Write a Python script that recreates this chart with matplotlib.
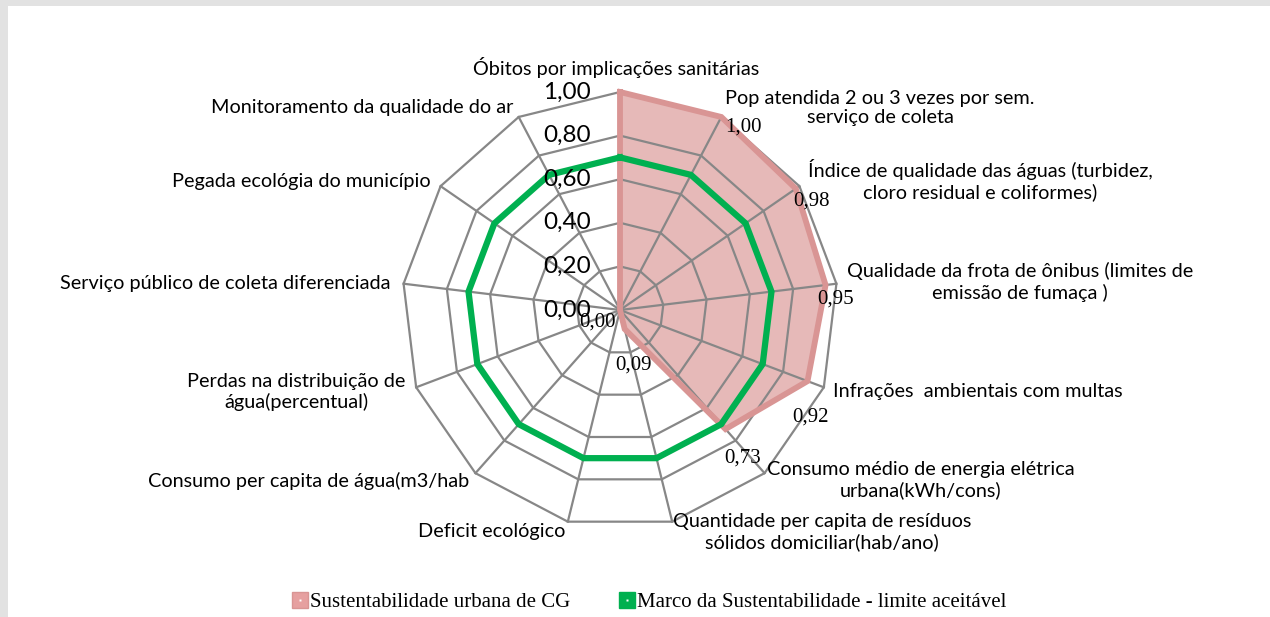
import numpy as np
import matplotlib
matplotlib.use("Agg")
import matplotlib.pyplot as plt
from matplotlib.lines import Line2D
from matplotlib.patches import Rectangle

categories = [
    "Óbitos por implicações sanitárias",
    "Pop atendida 2 ou 3 vezes por sem.\nserviço de coleta",
    "Índice de qualidade das águas (turbidez,\ncloro residual e coliformes)",
    "Qualidade da frota de ônibus (limites de\nemissão de fumaça )",
    "Infrações  ambientais com multas",
    "Consumo médio de energia elétrica\nurbana(kWh/cons)",
    "Quantidade per capita de resíduos\nsólidos domiciliar(hab/ano)",
    "Deficit ecológico",
    "Consumo per capita de água(m3/hab",
    "Perdas na distribuição de\nágua(percentual)",
    "Serviço público de coleta diferenciada",
    "Pegada ecológia do município",
    "Monitoramento da qualidade do ar",
]
cg_values = [1.00, 1.00, 0.98, 0.95, 0.92, 0.73, 0.09, 0.00, 0.00, 0.00, 0.00, 0.00, 0.00]
marco_values = [0.70] * 13
ticks = [0.0, 0.2, 0.4, 0.6, 0.8, 1.0]
tick_labels = ["0,00", "0,20", "0,40", "0,60", "0,80", "1,00"]
series_names = ["Sustentabilidade urbana de CG", "Marco da Sustentabilidade - limite aceitável"]

W, H = 1270, 617
CX, CY, R = 620, 310, 218

fig = plt.figure(figsize=(W / 100, H / 100), dpi=100, facecolor="#e2e2e2")
ax = fig.add_axes([0, 0, 1, 1])
ax.set_xlim(-CX / R, (W - CX) / R)
ax.set_ylim((CY - H) / R, CY / R)
ax.axis("off")
ax.add_patch(Rectangle((8 / W, 0), 1, 1 - 6 / H, transform=fig.transFigure,
                       facecolor="white", edgecolor="none", zorder=0, clip_on=False))


def px(x, y):
    return (x - CX) / R, (CY - y) / R


n = len(categories)
ang = np.arange(n) * 2 * np.pi / n


def xy(vals):
    v = np.asarray(vals, dtype=float)
    return v * np.sin(ang), v * np.cos(ang)


grid_col = "#878787"
# series fill
x, y = xy(cg_values)
ax.fill(x, y, facecolor="#e6b9b8", edgecolor="none", zorder=1)
# grid
for t in ticks[1:]:
    gx, gy = xy([t] * n)
    ax.plot(np.append(gx, gx[0]), np.append(gy, gy[0]), color=grid_col, lw=1.6, zorder=2)
for a in ang:
    ax.plot([0, np.sin(a)], [0, np.cos(a)], color=grid_col, lw=1.6, zorder=2)
# series edges
ax.plot(np.append(x, x[0]), np.append(y, y[0]), color="#d99594", lw=4.2, zorder=3,
        solid_joinstyle="miter")
mx, my = xy(marco_values)
ax.plot(np.append(mx, mx[0]), np.append(my, my[0]), color="#00b050", lw=4.5, zorder=4,
        solid_joinstyle="miter")

# tick labels
sans = ["Lato", "DejaVu Sans"]
for t, lab in zip(ticks, tick_labels):
    tx, ty = px(591, CY - R * t)
    ax.text(tx, ty, lab, ha="right", va="center", fontsize=17.5, family=sans, zorder=5)

# category labels (layout positions in pixels)
cat_pos = [
    (616, 67, "center"), (880, 108, "center"), (980, 180, "center"), (1020, 282, "center"),
    (833, 391, "left"), (921, 480, "center"), (822, 532, "center"), (492, 532, "center"),
    (469, 481, "right"), (296, 392, "center"), (391, 283, "right"), (431, 182, "right"),
    (513, 107, "right"),
]
for lab, (cx, cy, ha) in zip(categories, cat_pos):
    tx, ty = px(cx, cy)
    ax.text(tx, ty, lab, ha=ha, va="center", fontsize=14.3, family=sans,
            multialignment="center", linespacing=1.2, zorder=5)

# data labels (offsets in points)
lab_off = [None, (16, -7), (11, -9), (7, -10), (2, -26), (12, -21), (6, -26),
           (-16, -9), None, None, None, None, None]
for v, (vx, vy), off in zip(cg_values, zip(x, y), lab_off):
    if off is None:
        continue
    ax.annotate(f"{v:.2f}".replace(".", ","), (vx, vy), xytext=off, textcoords="offset points",
                ha="center", va="center", fontsize=15, family="Liberation Serif", zorder=6)

dot = Line2D([], [], ls="", marker="s", markersize=2, markerfacecolor="white",
             markeredgecolor="none")
handles = [
    (Line2D([], [], ls="", marker="s", markersize=12, markerfacecolor="#e6a0a0",
            markeredgecolor="#d99594"), dot),
    (Line2D([], [], ls="", marker="s", markersize=12, markerfacecolor="#00b050",
            markeredgecolor="#00b050"), dot),
]
fig.legend(handles, series_names, loc="center", bbox_to_anchor=(648 / W, 1 - 602 / H),
           ncol=2, frameon=False, prop={"family": "Liberation Serif", "size": 15},
           handletextpad=0.0, columnspacing=2.2, handlelength=1.0)

fig.savefig("out.png", dpi=100, facecolor=fig.get_facecolor())
